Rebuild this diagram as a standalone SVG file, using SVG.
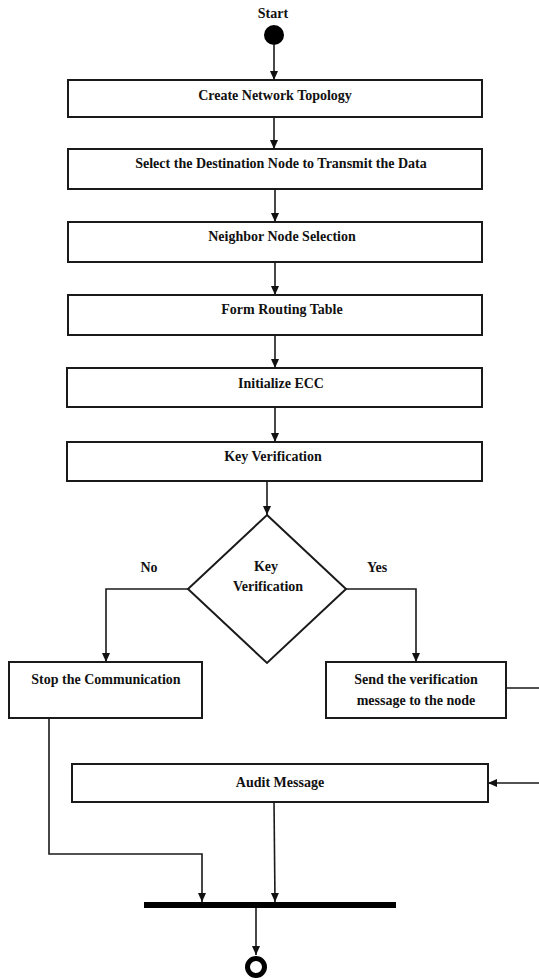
<svg xmlns="http://www.w3.org/2000/svg" width="539" height="980" viewBox="0 0 539 980">
<style>
.box{fill:#fff;stroke:#1a1a1a;stroke-width:2}
.t{font-family:"Liberation Serif","Times New Roman",serif;font-weight:bold;font-size:14px;fill:#111;text-anchor:middle}
.c{fill:none;stroke:#1a1a1a;stroke-width:1.6}
</style>
<defs>
<marker id="ah" markerUnits="userSpaceOnUse" markerWidth="10" markerHeight="10" viewBox="0 0 10 10" refX="9" refY="5" orient="auto">
<path d="M0,1 L9,5 L0,9 Z" fill="#111"/>
</marker>
</defs>
<rect width="539" height="980" fill="#fff"/>

<g id="start">
<text class="t" x="273" y="18" font-size="13">Start</text>
<circle cx="274" cy="35" r="10" fill="#000"/>
</g>

<g id="n1"><rect class="box" x="68" y="80" width="414" height="37"/><text class="t" x="275" y="100">Create Network Topology</text></g>
<g id="n2"><rect class="box" x="68" y="149" width="414" height="40"/><text class="t" x="281" y="168">Select the Destination Node to Transmit the Data</text></g>
<g id="n3"><rect class="box" x="68" y="222" width="414" height="40"/><text class="t" x="282" y="241">Neighbor Node Selection</text></g>
<g id="n4"><rect class="box" x="68" y="295" width="414" height="40"/><text class="t" x="282" y="314">Form Routing Table</text></g>
<g id="n5"><rect class="box" x="67" y="368" width="415" height="39"/><text class="t" x="281" y="388">Initialize ECC</text></g>
<g id="n6"><rect class="box" x="67" y="442" width="415" height="39"/><text class="t" x="273" y="461">Key Verification</text></g>

<g id="decision">
<polygon class="box" points="267,515 346,589 267,663 188,589"/>
<text class="t" x="266" y="571">Key</text>
<text class="t" x="268" y="591">Verification</text>
</g>

<g id="labels">
<text class="t" x="149" y="572">No</text>
<text class="t" x="377" y="572">Yes</text>
</g>

<g id="stop"><rect class="box" x="9" y="662" width="193" height="56"/><text class="t" x="106" y="684">Stop the Communication</text></g>
<g id="send"><rect class="box" x="326" y="662" width="180" height="56"/><text class="t" x="416" y="684">Send the verification</text><text class="t" x="416" y="705">message to the node</text></g>
<g id="audit"><rect class="box" x="72" y="764" width="416" height="38"/><text class="t" x="280" y="787">Audit Message</text></g>

<g id="join"><rect x="144" y="902" width="252" height="6" fill="#000"/></g>
<g id="end"><circle cx="256" cy="967" r="8.5" fill="none" stroke="#000" stroke-width="5"/></g>

<g id="connectors">
<line class="c" x1="274" y1="45" x2="274" y2="80" marker-end="url(#ah)"/>
<line class="c" x1="274" y1="117" x2="274" y2="149" marker-end="url(#ah)"/>
<line class="c" x1="275" y1="189" x2="275" y2="222" marker-end="url(#ah)"/>
<line class="c" x1="275" y1="262" x2="275" y2="295" marker-end="url(#ah)"/>
<line class="c" x1="275" y1="335" x2="275" y2="368" marker-end="url(#ah)"/>
<line class="c" x1="275" y1="407" x2="275" y2="442" marker-end="url(#ah)"/>
<line class="c" x1="267" y1="481" x2="267" y2="515" marker-end="url(#ah)"/>
<polyline class="c" points="188,589 106,589 106,662" marker-end="url(#ah)"/>
<polyline class="c" points="346,589 416,589 416,662" marker-end="url(#ah)"/>
<polyline class="c" points="506,688 545,688 545,783 488,783" marker-end="url(#ah)"/>
<polyline class="c" points="49,718 49,854 202,854 202,902" marker-end="url(#ah)"/>
<line class="c" x1="274" y1="802" x2="275" y2="902" marker-end="url(#ah)"/>
<line class="c" x1="256" y1="908" x2="256" y2="955" marker-end="url(#ah)"/>
</g>
</svg>
